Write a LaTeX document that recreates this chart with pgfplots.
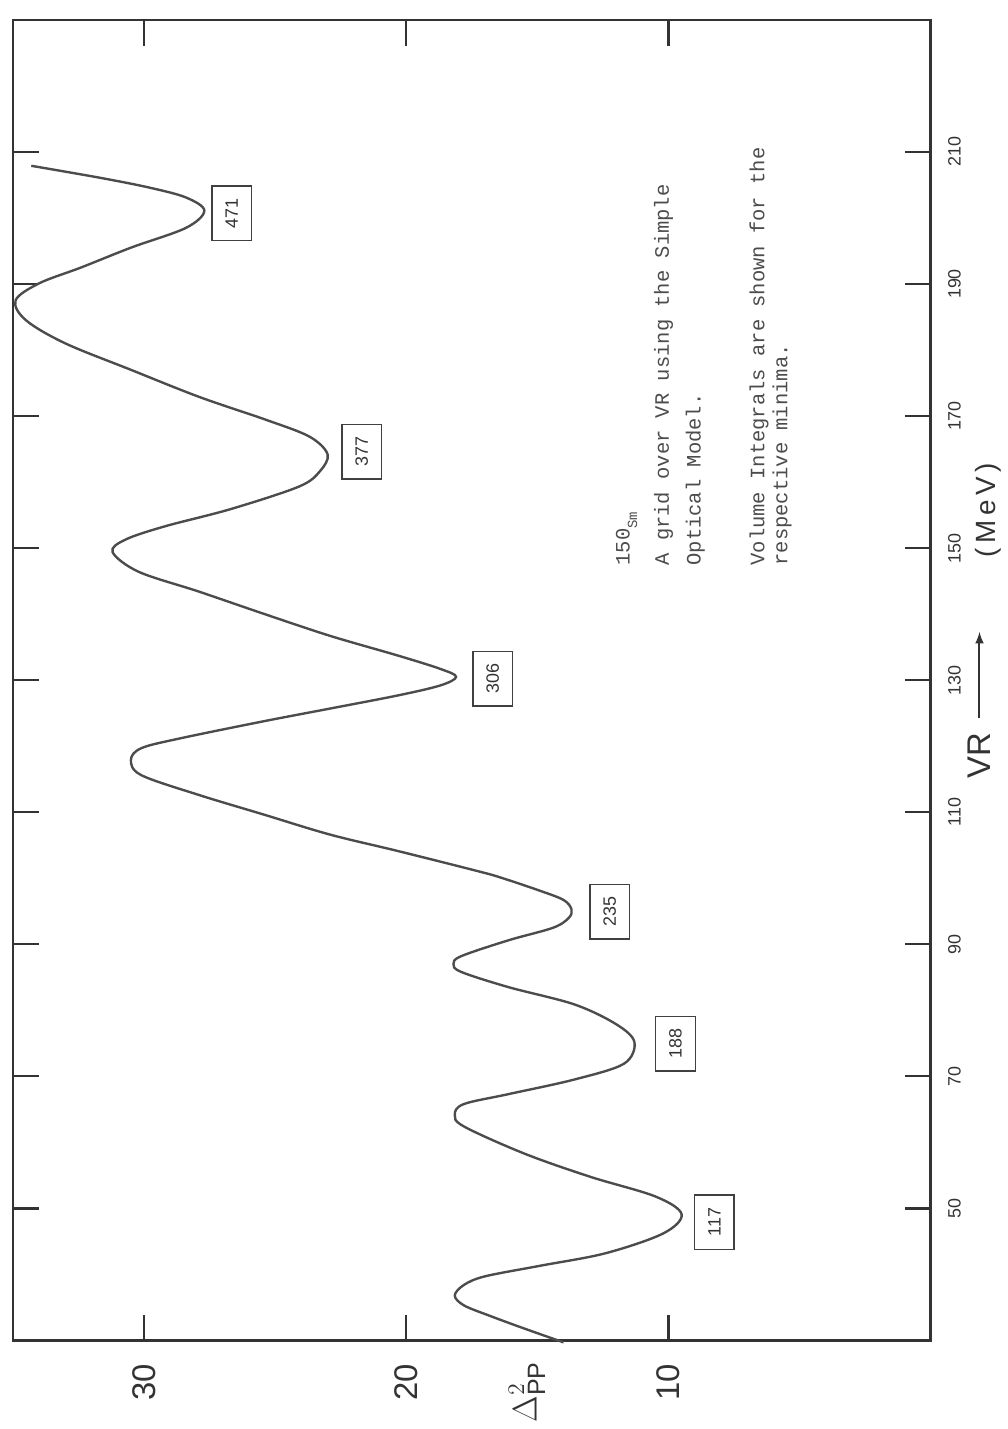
\documentclass[border=0pt]{standalone}
\usepackage{pgfplots}
\pgfplotsset{compat=1.18}
\usepackage{fontspec}
\setmainfont{Liberation Sans}
\newfontfamily\tw{Liberation Mono}
\pgfplotstableread{
vr d2
29.7 14.0
31.8 15.5
33.7 16.8
35.3 17.8
36.8 18.15
38.4 17.8
39.7 17.0
41.3 14.9
43.2 12.4
46.2 10.2
49.1 9.5
51.8 10.5
54.8 13.0
58.3 15.5
62.4 17.8
64.2 18.15
65.8 17.8
67.3 16.1
69.5 13.6
71.9 11.7
75.2 11.3
77.9 12.0
80.9 13.6
83.5 16.1
85.8 17.9
87.0 18.2
88.2 17.9
90.6 16.1
92.5 14.4
94.0 13.8
95.3 13.7
96.7 14.0
98.1 14.9
100.1 16.4
101.1 17.3
104.1 20.3
106.6 22.9
109.6 25.4
112.6 27.9
115.6 30.1
117.9 30.5
119.7 30.1
121.2 28.6
123.8 25.4
125.7 22.9
127.7 20.3
129.2 18.7
130.5 18.1
131.7 18.7
133.7 20.3
136.7 22.9
140.0 25.4
143.4 27.9
146.4 30.2
149.4 31.2
151.3 30.7
153.3 29.2
155.9 26.7
159.3 24.1
161.6 23.3
164.2 23.0
166.9 23.7
169.5 25.4
172.9 27.9
177.0 30.5
181.0 33.0
184.5 34.5
187.5 34.9
190.1 34.0
192.5 32.4
195.5 30.5
198.5 28.4
201.1 27.7
203.1 28.4
204.6 29.8
206.1 31.7
207.9 34.3
}\curve
\begin{document}
\begin{tikzpicture}[rotate=90,transform shape]
\begin{axis}[
  scale only axis, width=664pt, height=461.5pt,
  xmin=30, xmax=230, ymin=0, ymax=35,
  xtick={50,70,...,210}, ytick={10,20,30},
  tick align=inside, major tick length=13pt,
  axis line style={line width=1.3pt, black!80},
  tick style={line width=1.2pt, black!80},
  /pgf/number format/assume math mode=true,
  xticklabel style={font=\fontsize{9}{10}\selectfont, anchor=center, yshift=-12pt, text=black!80},
  yticklabel style={font=\fontsize{16.5}{18}\selectfont, anchor=center, xshift=-21pt, text=black!80},
  clip=false,
]
\addplot[smooth, tension=0.55, line width=1.2pt, black!70] table[x=vr, y=d2] {\curve};

\path (rel axis cs:-0.0610,-0.07584) rectangle (rel axis cs:1.01506,1.01408);

\tikzset{bx/.style={draw=black!75, line width=0.8pt, minimum width=27.5pt, minimum height=20pt, inner sep=0pt, font=\fontsize{9}{10}\selectfont, text=black!80}}
\node[bx] at (axis cs:200.7,26.66) {471};
\node[bx] at (axis cs:164.6,21.7) {377};
\node[bx] at (axis cs:130.2,16.7) {306};
\node[bx] at (axis cs:94.9,12.24) {235};
\node[bx] at (axis cs:74.9,9.73) {188};
\node[bx] at (axis cs:47.9,8.25) {117};

\tikzset{tw/.style={anchor=west, inner sep=0pt, font=\tw\fontsize{10.3}{12}\selectfont, text=black!70}}
\node[tw] at (axis cs:147.3,11.6) {150\raisebox{-0.7ex}{\fontsize{7}{8}\selectfont Sm}};
\node[tw] at (axis cs:147.3,10.19) {A grid over VR using the Simple};
\node[tw] at (axis cs:147.3,8.98) {Optical Model.};
\node[tw] at (axis cs:147.3,6.55) {Volume Integrals are shown for the};
\node[tw] at (axis cs:147.3,5.67) {respective minima.};

\node[font=\fontsize{16.5}{18}\selectfont, text=black!80] at (axis cs:118.6,-1.86) {VR};
\draw[-latex, line width=1pt, black!80] (axis cs:124.2,-1.86) -- (axis cs:137.3,-1.86);
\node[font=\fontsize{14}{16}\selectfont, text=black!80] at (axis cs:155.7,-2.2) {(\,M\,e\,V\,)};
\node[font=\fontsize{18}{20}\selectfont, text=black!80] at (axis cs:22.2,15.4) {$\Delta^{2}_{\mathrm{PP}}$};
\end{axis}
\end{tikzpicture}
\end{document}
